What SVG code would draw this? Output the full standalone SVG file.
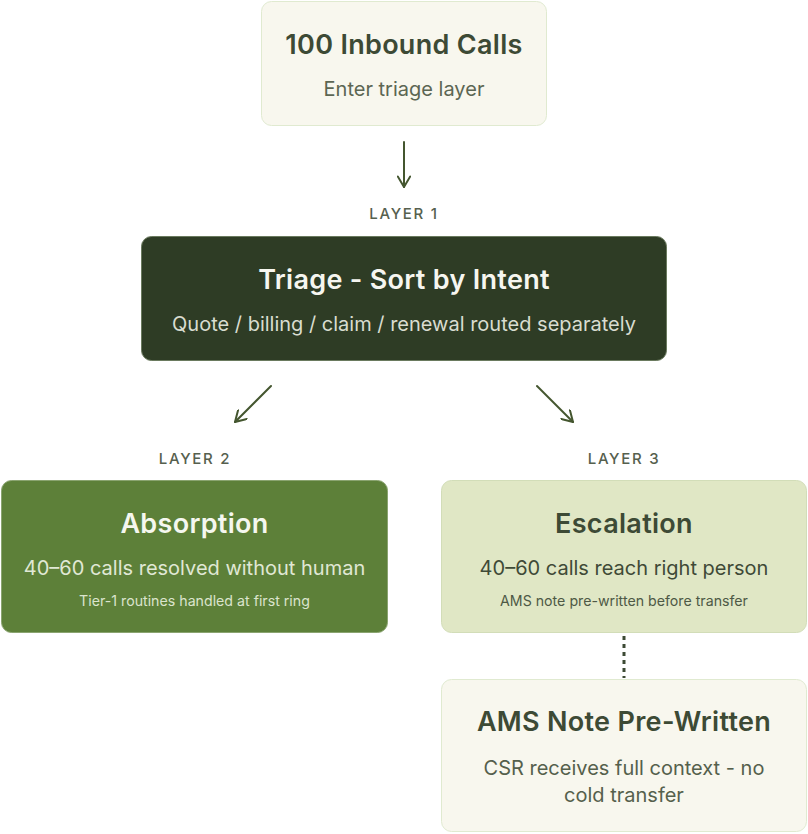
<svg xmlns="http://www.w3.org/2000/svg" width="808" height="834" viewBox="0 0 808 834">
<defs>
<style>
.t{font-family:Inter,"Noto Sans",sans-serif;text-anchor:middle}
.h{font-size:27px;font-weight:600;letter-spacing:0.3px}
.s{font-size:20px;font-weight:400}
.x{font-size:14.2px}
.lay{font-family:Inter,"Noto Sans",sans-serif;text-anchor:middle;font-size:15px;letter-spacing:1.7px;fill:#56604e;font-weight:500}
.con{stroke:#44562f;stroke-width:2;fill:none;stroke-linecap:round;stroke-linejoin:round}
</style>
<marker id="ah" viewBox="0 0 14 14" refX="12" refY="7" markerWidth="14" markerHeight="14" markerUnits="userSpaceOnUse" orient="auto">
<path d="M1.5 0.8 L12 7 L1.5 13.2" fill="none" stroke="#44562f" stroke-width="2" stroke-linecap="round" stroke-linejoin="round"/>
</marker>
</defs>
<rect width="808" height="834" fill="#ffffff"/>
<g id="inbound">
<rect x="261.5" y="1.5" width="285" height="124" rx="10" fill="#f8f7ee" stroke="#e0ead0"/>
<text class="t h" x="404" y="54" fill="#3d4a35">100 Inbound Calls</text>
<text class="t s" x="404" y="96" fill="#5c6653">Enter triage layer</text>
</g>
<g id="triage">
<rect x="141.5" y="236.5" width="525" height="124" rx="10" fill="#2e3c25" stroke="#6a7a5e"/>
<text class="t h" x="404" y="289" fill="#f6f6f0">Triage - Sort by Intent</text>
<text class="t s" x="404" y="331" fill="#d9ddd0">Quote / billing / claim / renewal routed separately</text>
</g>
<g id="absorption">
<rect x="1.5" y="480.5" width="386" height="152" rx="10" fill="#5d8039" stroke="#8aa470"/>
<text class="t h" x="194.5" y="533" fill="#f5f7ef">Absorption</text>
<text class="t s" x="194.5" y="575" fill="#e0e8d5">40–60 calls resolved without human</text>
<text class="t x" x="194.5" y="606" fill="#dbe4cd">Tier-1 routines handled at first ring</text>
</g>
<g id="escalation">
<rect x="441.5" y="480.5" width="365" height="152" rx="10" fill="#e0e7c5" stroke="#d2ddb8"/>
<text class="t h" x="624" y="533" fill="#3d4a35">Escalation</text>
<text class="t s" x="624" y="575" fill="#3f4a37">40–60 calls reach right person</text>
<text class="t x" x="624" y="606" fill="#4e5945">AMS note pre-written before transfer</text>
</g>
<g id="ams-note">
<rect x="441.5" y="679.5" width="365" height="152" rx="10" fill="#f8f7ee" stroke="#e0ead0"/>
<text class="t h" x="624" y="731" fill="#3d4a35">AMS Note Pre-Written</text>
<text class="t s" x="624" y="775" fill="#55604c">CSR receives full context - no</text>
<text class="t s" x="624" y="802" fill="#55604c">cold transfer</text>
</g>
<g id="labels">
<text class="lay" x="404" y="219">LAYER 1</text>
<text class="lay" x="195" y="464">LAYER 2</text>
<text class="lay" x="624" y="464">LAYER 3</text>
</g>
<g id="connectors">
<line class="con" x1="404" y1="142" x2="404" y2="187" marker-end="url(#ah)"/>
<line class="con" x1="271" y1="386" x2="235" y2="422" marker-end="url(#ah)"/>
<line class="con" x1="537" y1="386" x2="573" y2="422" marker-end="url(#ah)"/>
<line x1="624" y1="636" x2="624" y2="678" stroke="#3d4a35" stroke-width="3" stroke-dasharray="4 4"/>
</g>
</svg>
